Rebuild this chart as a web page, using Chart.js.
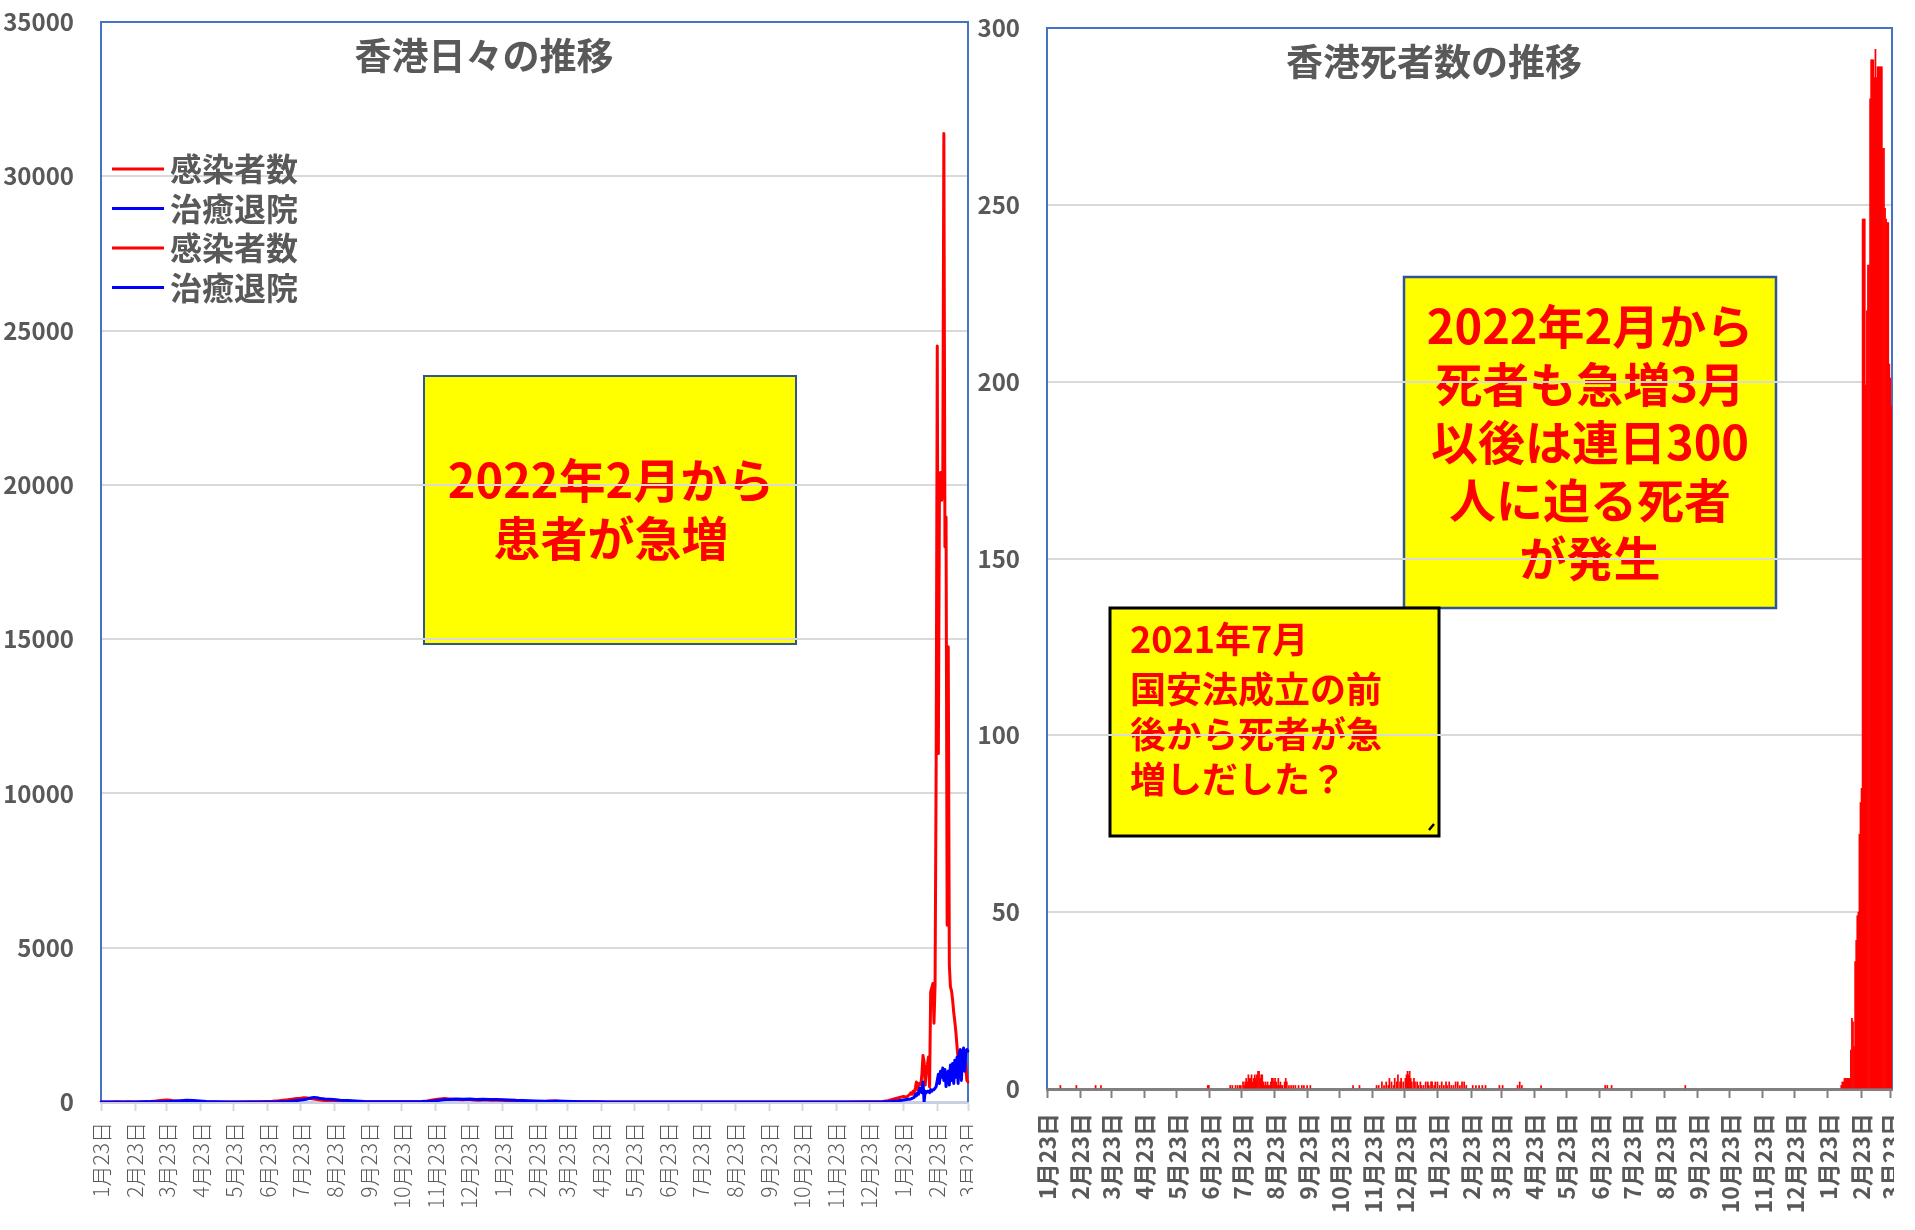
<!DOCTYPE html>
<html lang="ja">
<head>
<meta charset="utf-8">
<title>香港日々の推移 / 香港死者数の推移</title>
<script src="https://cdn.jsdelivr.net/npm/chart.js@4.4.1/dist/chart.umd.min.js"></script>
<style>
  html, body { margin: 0; padding: 0; background: #fff; }
  body { width: 1915px; height: 1230px; position: relative; overflow: hidden; }
  .panel { position: absolute; top: 0; height: 1230px; overflow: hidden; }
  #leftPanel  { left: 0;     width: 973px; }
  #rightPanel { left: 975px; width: 919px; }
</style>
</head>
<body>
<div class="panel" id="leftPanel"><canvas id="casesChart"></canvas></div>
<div class="panel" id="rightPanel"><canvas id="deathsChart"></canvas></div>
<script>
'use strict';

// ============================================================
// DATA
// ============================================================
// one category per day, 2020-01-23 .. 2022-03-23 (day index 0..790)
const FIRST_DAY = Date.UTC(2020, 0, 23);
const DAY_COUNT = 791;
const dayLabels = [];
for (let i = 0; i < DAY_COUNT; i++) {
  dayLabels.push(new Date(FIRST_DAY + i * 86400000).toISOString().slice(0, 10));
}
// axis text: only the 23rd of each month is labelled
const tickText = dayLabels.map(iso => {
  const m = Number(iso.slice(5, 7)), d = Number(iso.slice(8, 10));
  return d === 23 ? `${m}月${d}日` : '';
});

// 感染者数 (daily cases) – day index / value
const caseDays = [0, 5, 10, 15, 20, 25, 30, 35, 40, 45, 50, 54, 57, 60, 63, 66, 69, 72, 76, 80, 88, 96,
  105, 115, 125, 135, 143, 150, 156, 162, 166, 170, 174, 178, 182, 185, 188, 191, 194, 197, 200, 204, 208,
  212, 216, 222, 230, 238, 246, 254, 262, 270, 278, 286, 292, 297, 301, 305, 309, 313, 317, 321, 325, 330,
  335, 340, 345, 350, 355, 360, 365, 370, 376, 382, 388, 394, 400, 406, 410, 414, 418, 424, 432, 440, 450,
  460, 475, 490, 505, 520, 540, 560, 580, 600, 620, 640, 660, 680, 695, 705, 712, 717, 721, 725, 728, 731,
  734, 737, 738, 739, 740, 741, 742, 743, 744, 745, 746, 747, 748, 749, 750, 751, 752, 753, 754, 755, 756,
  757, 758, 759, 760, 761, 762, 763, 764, 765, 766, 767, 768, 769, 770, 771, 772, 773, 774, 775, 776, 777,
  778, 779, 780, 781, 782, 783, 784, 785, 786, 787, 788, 789, 790];
const caseVals = [0, 2, 3, 5, 3, 5, 4, 3, 8, 15, 30, 48, 60, 65, 55, 40, 30, 20, 10, 5, 3, 1,
  2, 3, 4, 6, 8, 20, 25, 40, 55, 70, 90, 110, 125, 140, 130, 110, 95, 80, 65, 45, 30,
  20, 15, 12, 10, 12, 8, 10, 7, 10, 8, 12, 20, 35, 60, 85, 100, 110, 100, 90, 80, 70,
  85, 65, 60, 75, 60, 55, 55, 45, 35, 25, 15, 12, 15, 25, 35, 30, 18, 12, 10, 8, 5,
  3, 2, 1, 2, 3, 2, 1, 2, 3, 2, 2, 3, 4, 5, 8, 15, 40, 80, 120, 150, 180,
  160, 250, 300, 250, 350, 300, 450, 650, 400, 600, 600, 550, 900, 1510, 1300, 550, 1000, 1200, 1460, 490, 3570,
  3700, 3840, 2550, 3800, 11000, 24500, 11290, 20000, 20400, 19500, 20000, 31390, 17990, 18960, 5730, 14750, 4430, 3730, 3600, 3300, 2900,
  2600, 2250, 1800, 1400, 1100, 930, 1000, 1300, 1680, 1600, 1100, 700, 650];

// 治癒退院 (daily discharges)
const recDays = [0, 10, 20, 30, 40, 50, 60, 66, 72, 78, 84, 90, 96, 104, 115, 130, 145, 160, 170, 178,
  184, 188, 191, 194, 197, 200, 204, 208, 212, 218, 225, 232, 240, 250, 260, 275, 290, 300, 306, 312, 318,
  324, 330, 336, 342, 348, 354, 360, 366, 372, 378, 384, 390, 396, 404, 410, 416, 422, 430, 440, 450, 465,
  480, 500, 530, 560, 600, 640, 680, 700, 712, 720, 726, 730, 734, 738, 741, 742, 743, 744, 745, 746, 747,
  748, 749, 750, 751, 752, 753, 754, 755, 756, 757, 758, 759, 760, 761, 762, 763, 764, 765, 766, 767, 768,
  769, 770, 771, 772, 773, 774, 775, 776, 777, 778, 779, 780, 781, 782, 783, 784, 785, 786, 787, 788, 789, 790];
const recVals = [0, 1, 2, 3, 5, 8, 15, 25, 40, 55, 50, 35, 20, 10, 4, 2, 3, 8, 20, 45,
  70, 100, 130, 150, 140, 110, 95, 90, 80, 60, 45, 30, 18, 12, 10, 8, 10, 25, 45, 70, 85,
  95, 90, 100, 85, 90, 80, 85, 75, 65, 55, 50, 40, 30, 22, 25, 35, 28, 18, 10, 6, 4,
  3, 2, 2, 2, 3, 2, 3, 4, 8, 20, 40, 60, 80, 100, 150, 250, 200, 300, 250, 450, 350,
  300, 650, 0, 350, 300, 350, 350, 300, 400, 350, 400, 400, 450, 500, 700, 900, 600, 1000, 800, 1100, 700,
  1050, 500, 900, 1000, 550, 1200, 700, 1250, 600, 1350, 800, 1450, 600, 1600, 1700, 700, 1500, 1750, 1000, 1650, 1700, 1650];

// 死者数 (daily deaths) – days without a bar are 0
const deathDays = [12, 27, 45, 50, 150, 151,
  171, 173, 176, 178, 180, 181, 183, 184, 185, 186, 187, 188, 189, 190, 191, 192, 193, 194, 195, 196, 197,
  198, 199, 200, 201, 202, 203, 204, 205, 206, 207, 208, 209, 210, 211, 212, 213, 214, 215, 216, 217, 218,
  219, 220, 222, 223, 224, 226, 228, 230, 232, 235, 238, 240, 243, 246, 286, 292,
  308, 310, 313, 315, 317, 319, 320, 322, 324, 325, 327, 328, 330, 331, 333, 335, 336, 337, 338, 339, 340,
  341, 343, 344, 346, 347, 349, 350, 352, 354, 356, 357, 359, 360, 362, 363, 365, 367, 369, 371, 373, 374,
  376, 378, 380, 382, 384, 386, 388, 390, 392,
  398, 401, 404, 407, 410, 423, 426, 440, 442, 444, 462, 522, 524, 528, 597,
  743, 744, 745, 746, 747, 748, 749, 750, 751, 752, 753, 754, 755, 756, 757, 758, 759, 760, 761, 762, 763,
  764, 765, 766, 767, 768, 769, 770, 771, 772, 773, 774, 775, 776, 777, 778, 779, 780, 781, 782, 783, 784,
  785, 786, 787, 788, 789, 790];
const deathVals = [1, 1, 1, 1, 1, 1,
  1, 1, 1, 1, 1, 1, 2, 1, 2, 3, 2, 4, 3, 3, 4, 2, 3, 4, 3, 4, 5,
  5, 3, 4, 4, 2, 1, 2, 1, 2, 1, 1, 2, 3, 3, 2, 3, 2, 1, 3, 1, 2,
  1, 1, 2, 3, 2, 1, 1, 1, 1, 1, 1, 1, 1, 1, 1, 1,
  1, 1, 2, 1, 2, 1, 3, 2, 1, 3, 2, 4, 2, 3, 2, 3, 4, 5, 4, 5, 3,
  2, 3, 2, 2, 1, 2, 1, 1, 2, 2, 1, 2, 2, 1, 2, 2, 1, 2, 1, 2, 1,
  2, 1, 1, 2, 2, 1, 2, 2, 1,
  1, 1, 1, 1, 1, 1, 1, 1, 2, 1, 1, 1, 1, 1, 1,
  1, 2, 2, 3, 3, 3, 3, 3, 3, 11, 20, 19, 12, 36, 42, 49, 50, 72, 81, 85, 246,
  246, 246, 199, 220, 233, 233, 280, 291, 291, 291, 286, 294, 286, 289, 289, 289, 289, 289, 266, 266, 249,
  246, 245, 245, 205, 201, 193];

const legendLabels = ['感染者数', '治癒退院', '感染者数', '治癒退院'];
const caseTicks  = [0, 5000, 10000, 15000, 20000, 25000, 30000, 35000];
const deathTicks = [0, 50, 100, 150, 200, 250, 300];

// ============================================================
// STYLE
// ============================================================
const FONT  = '"Noto Sans CJK JP", "Noto Sans", sans-serif';
const GREY  = '#595959';
const GRID  = '#D9D9D9';
const FRAME = '#4472C4';
const RED   = '#FF0000';
const BLUE  = '#0000FF';

Chart.defaults.font.family = FONT;
Chart.defaults.animation = false;
Chart.defaults.plugins.legend.display = false;
Chart.defaults.plugins.tooltip.enabled = false;

const toPoints = (days, vals) => days.map((d, i) => ({ x: dayLabels[d], y: vals[i] }));

// ============================================================
// OVERLAY PLUGIN (frame, title, legend, note boxes)
// ============================================================
function drawNote(ctx, b) {
  ctx.save();
  ctx.fillStyle = '#FFFF00';
  ctx.fillRect(b.x0, b.y0, b.x1 - b.x0, b.y1 - b.y0);
  ctx.lineWidth = b.borderWidth;
  ctx.strokeStyle = b.border;
  ctx.strokeRect(b.x0, b.y0, b.x1 - b.x0, b.y1 - b.y0);
  ctx.fillStyle = RED;
  ctx.font = `bold ${b.size}px ${FONT}`;
  ctx.textBaseline = 'middle';
  ctx.textAlign = b.align;
  b.lines.forEach((t, i) => ctx.fillText(t, b.textX, b.lineY[i]));
  if (b.handle) {
    ctx.strokeStyle = '#000'; ctx.lineWidth = 2.5;
    ctx.beginPath(); ctx.moveTo(b.x1 - 10, b.y1 - 6); ctx.lineTo(b.x1 - 5, b.y1 - 12); ctx.stroke();
  }
  ctx.restore();
}

const overlay = {
  id: 'overlay',
  beforeDraw(chart, args, o) {
    (o.notes || []).forEach(b => drawNote(chart.ctx, b));
  },
  beforeDatasetsDraw(chart) {
    const { left, top, right, bottom } = chart.chartArea;
    const ctx = chart.ctx;
    ctx.save();
    ctx.strokeStyle = FRAME; ctx.lineWidth = 2;
    ctx.beginPath();
    ctx.moveTo(left, bottom); ctx.lineTo(left, top); ctx.lineTo(right, top); ctx.lineTo(right, bottom);
    ctx.stroke();
    ctx.restore();
  },
  afterDraw(chart, args, o) {
    const ctx = chart.ctx;
    ctx.save();
    ctx.fillStyle = GREY;
    ctx.textBaseline = 'middle';
    if (o.title) {
      ctx.font = `bold ${o.title.size}px ${FONT}`;
      ctx.textAlign = 'center';
      ctx.fillText(o.title.text, o.title.x, o.title.y);
    }
    if (o.legend) {
      const L = o.legend;
      ctx.font = `bold ${L.size}px ${FONT}`;
      ctx.textAlign = 'left';
      L.items.forEach((dsIndex, i) => {
        const y = L.y0 + i * L.step;
        ctx.strokeStyle = chart.data.datasets[dsIndex].borderColor;
        ctx.lineWidth = 3;
        ctx.beginPath(); ctx.moveTo(L.x0, y); ctx.lineTo(L.x0 + L.lineLen, y); ctx.stroke();
        ctx.fillStyle = GREY;
        ctx.fillText(legendLabels[i], L.x0 + L.lineLen + 6, y);
      });
    }
    ctx.restore();
  }
};

// ============================================================
// CASES / DISCHARGES (left)
// ============================================================
new Chart(document.getElementById('casesChart'), {
  type: 'line',
  data: {
    labels: dayLabels,
    datasets: [
      { label: '治癒退院', data: toPoints(recDays, recVals), borderColor: BLUE, borderWidth: 3,
        pointRadius: 0, borderJoinStyle: 'round', borderCapStyle: 'round', order: 0 },
      { label: '感染者数', data: toPoints(caseDays, caseVals), borderColor: RED, borderWidth: 3,
        pointRadius: 0, borderJoinStyle: 'round', borderCapStyle: 'round', order: 1 }
    ]
  },
  options: {
    responsive: true, maintainAspectRatio: false, devicePixelRatio: 1,
    layout: { padding: { top: 22, right: 5, left: 0, bottom: 0 } },
    scales: {
      x: {
        type: 'category',
        ticks: { autoSkip: false, minRotation: 90, maxRotation: 90, padding: 11,
                 color: GREY, font: { size: 21, weight: 300 },
                 callback: (v, i) => tickText[i] },
        grid: { drawOnChartArea: false, tickLength: 9, tickWidth: 2,
                tickColor: c => (tickText[c.index] ? GRID : 'rgba(0,0,0,0)') },
        border: { color: '#C9D0E2', width: 3 },
        afterFit: s => { s.height = 128; s.paddingLeft = 0; s.paddingRight = 0; }
      },
      y: {
        min: 0, max: 35000,
        afterBuildTicks: s => { s.ticks = caseTicks.map(v => ({ value: v })); },
        ticks: { padding: 27, color: GREY, font: { size: 24, weight: 'bold' }, callback: v => String(v) },
        grid: { color: GRID, lineWidth: 2, drawTicks: false },
        border: { display: false },
        afterFit: s => { s.width = 101; s.paddingTop = 0; s.paddingBottom = 0; }
      }
    },
    plugins: {
      overlay: {
        title: { text: '香港日々の推移', x: 484, y: 56, size: 37 },
        legend: { items: [1, 0, 1, 0], x0: 112, y0: 169, step: 39.5, lineLen: 52, size: 32 },
        notes: [
          { x0: 424, y0: 376, x1: 796, y1: 644, border: '#2F5597', borderWidth: 2, size: 47,
            align: 'center', textX: 611, lineY: [480, 538], lines: ['2022年2月から', '患者が急増'] }
        ]
      }
    }
  },
  plugins: [overlay]
});

// ============================================================
// DEATHS (right)
// ============================================================
new Chart(document.getElementById('deathsChart'), {
  type: 'bar',
  data: {
    labels: dayLabels,
    datasets: [
      { label: '死者数', data: toPoints(deathDays, deathVals), backgroundColor: RED, borderWidth: 0,
        categoryPercentage: 1, barPercentage: 1 }
    ]
  },
  options: {
    responsive: true, maintainAspectRatio: false, devicePixelRatio: 1,
    layout: { padding: { top: 28, right: 2, left: 0, bottom: 0 } },
    scales: {
      x: {
        type: 'category',
        ticks: { autoSkip: false, minRotation: 90, maxRotation: 90, padding: 15,
                 color: GREY, font: { size: 23, weight: 'bold' },
                 callback: (v, i) => tickText[i] },
        grid: { drawOnChartArea: false, tickLength: 9, tickWidth: 2,
                tickColor: c => (tickText[c.index] ? '#808080' : 'rgba(0,0,0,0)') },
        border: { color: '#808080', width: 3 },
        afterFit: s => { s.height = 141; s.paddingLeft = 0; s.paddingRight = 0; }
      },
      y: {
        min: 0, max: 300,
        afterBuildTicks: s => { s.ticks = deathTicks.map(v => ({ value: v })); },
        ticks: { padding: 27, color: GREY, font: { size: 24, weight: 'bold' }, callback: v => String(v) },
        grid: { color: GRID, lineWidth: 2, drawTicks: false },
        border: { display: false },
        afterFit: s => { s.width = 72; s.paddingTop = 0; s.paddingBottom = 0; }
      }
    },
    plugins: {
      overlay: {
        title: { text: '香港死者数の推移', x: 459, y: 62, size: 37 },
        notes: [
          { x0: 429, y0: 277, x1: 801, y1: 608, border: '#2F5597', borderWidth: 2.5, size: 47,
            align: 'center', textX: 615, lineY: [326, 384, 442, 500, 558],
            lines: ['2022年2月から', '死者も急増3月', '以後は連日300', '人に迫る死者', 'が発生'] },
          { x0: 135, y0: 608, x1: 464, y1: 836, border: '#000000', borderWidth: 3, size: 36,
            align: 'left', textX: 155, lineY: [639, 689, 734, 779], handle: true,
            lines: ['2021年7月', '国安法成立の前', '後から死者が急', '増しだした？'] }
        ]
      }
    }
  },
  plugins: [overlay]
});
</script>
</body>
</html>
